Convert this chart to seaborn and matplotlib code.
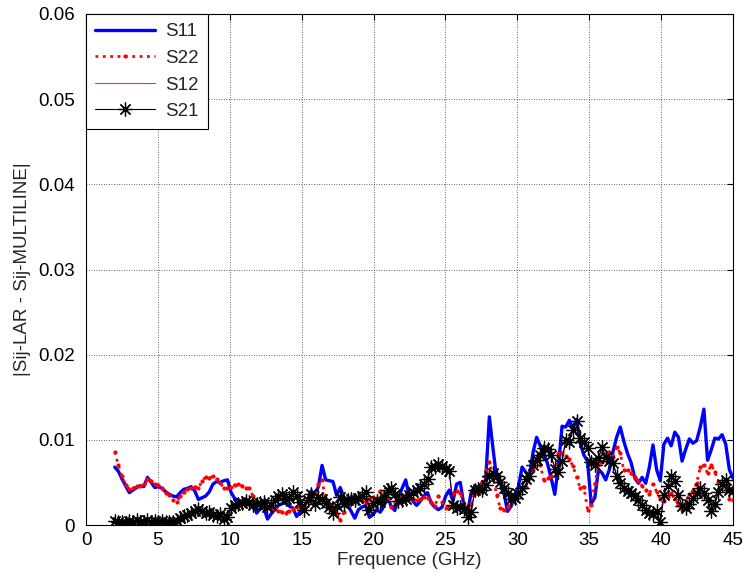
import numpy as np
import pandas as pd
import matplotlib
matplotlib.use("Agg")
import matplotlib.pyplot as plt
import seaborn as sns

# ----------------------------- Data (values read in units of 1e-3) -----------------------------
freq_start, freq_stop, n_points = 2.0, 45.0, 171

s11 = [
    6.8, 6.3, 5.4, 4.6, 3.8, 4.1, 4.4, 4.6,
    4.5, 5.6, 5.0, 4.4, 4.5, 4.3, 3.9, 3.6,
    3.4, 3.3, 3.8, 4.2, 4.3, 4.5, 4.0, 3.0,
    3.2, 3.4, 3.9, 4.8, 5.1, 5.0, 5.2, 5.3,
    3.8, 3.1, 2.9, 2.8, 2.7, 2.7, 2.6, 1.4,
    1.9, 2.0, 0.7, 1.3, 1.8, 2.3, 2.5, 2.6,
    2.2, 2.0, 1.0, 1.6, 2.0, 2.9, 4.0, 3.6,
    4.5, 7.0, 5.3, 5.2, 5.1, 3.5, 4.4, 3.2,
    2.4, 1.6, 0.8, 1.8, 2.1, 2.3, 0.9, 1.2,
    1.8, 1.5, 2.2, 3.3, 2.2, 1.7, 3.2, 4.3,
    5.3, 3.3, 2.8, 2.3, 2.8, 3.4, 3.8, 2.6,
    2.1, 1.8, 2.1, 3.4, 4.1, 2.8, 4.8, 5.0,
    2.3, 1.4, 3.8, 4.5, 4.5, 4.9, 5.3, 12.7,
    9.0, 5.5, 5.0, 3.8, 1.6, 2.2, 3.5, 4.5,
    6.8, 6.2, 5.7, 8.5, 10.3, 9.3, 8.4, 7.2,
    5.5, 3.6, 7.0, 11.6, 11.5, 12.3, 11.3, 12.4,
    9.6, 8.2, 7.5, 2.5, 3.2, 6.5, 6.1, 5.3,
    6.5, 8.6, 10.3, 11.5, 9.8, 8.4, 7.3, 5.5,
    4.9, 5.6, 4.9, 6.8, 9.4, 6.5, 5.2, 9.5,
    10.2, 9.3, 10.9, 10.3, 7.5, 8.9, 10.1, 9.6,
    9.9, 11.5, 13.6, 7.6, 8.8, 10.2, 10.1, 10.6,
    9.5, 6.5, 5.5,
]

s22 = [
    8.6, 7.0, 5.7, 4.7, 4.2, 4.3, 4.6, 4.6,
    4.8, 5.4, 5.2, 4.8, 4.7, 4.3, 3.8, 3.5,
    2.9, 2.7, 3.4, 3.9, 4.2, 4.4, 4.5, 4.3,
    5.2, 5.6, 5.5, 5.7, 5.4, 4.9, 4.4, 4.3,
    4.5, 4.7, 4.8, 4.6, 4.4, 4.3, 3.4, 2.5,
    2.2, 2.0, 2.1, 2.1, 1.9, 1.7, 1.5, 1.4,
    1.7, 1.9, 2.1, 2.1, 2.2, 2.8, 3.5, 3.7,
    4.8, 5.3, 3.0, 2.5, 2.1, 1.2, 0.6, 1.5,
    2.5, 2.8, 3.1, 2.9, 2.8, 2.7, 3.0, 3.3,
    3.1, 4.0, 3.8, 3.1, 2.1, 2.6, 3.1, 3.5,
    3.6, 3.3, 3.0, 2.9, 3.0, 3.3, 3.2, 2.7,
    2.2, 3.4, 2.7, 2.0, 2.1, 3.8, 4.0, 3.8,
    2.5, 1.8, 2.5, 3.8, 4.4, 5.0, 6.3, 7.4,
    5.7, 3.5, 2.0, 1.8, 2.1, 2.7, 3.1, 3.6,
    4.2, 4.5, 5.7, 6.5, 8.0, 7.0, 5.3, 5.5,
    5.8, 6.3, 8.4, 8.5, 8.1, 7.7, 6.9, 5.6,
    4.3, 4.5, 1.8, 2.4, 4.8, 7.0, 7.4, 8.3,
    8.6, 8.0, 9.2, 8.4, 6.4, 6.4, 6.1, 5.6,
    5.2, 4.6, 4.1, 3.6, 4.8, 3.9, 3.1, 2.8,
    3.3, 3.8, 3.0, 2.4, 1.8, 2.8, 3.6, 4.0,
    4.9, 6.8, 7.0, 6.1, 7.1, 6.2, 5.1, 4.9,
    4.3, 3.0, 2.9,
]

s12 = [
    0.5, 0.3, 0.4, 0.2, 0.5, 0.3, 0.6, 0.4,
    0.3, 0.6, 0.4, 0.5, 0.3, 0.5, 0.4, 0.3,
    0.4, 0.5, 0.8, 1.0, 1.2, 1.4, 1.6, 1.9,
    1.7, 1.4, 1.5, 1.2, 1.1, 1.3, 0.7, 0.9,
    2.0, 2.3, 2.5, 2.6, 2.8, 2.7, 2.3, 2.5,
    2.6, 2.7, 2.1, 2.4, 2.9, 3.4, 3.6, 3.0,
    3.2, 3.9, 3.4, 2.7, 1.8, 2.9, 3.6, 2.5,
    3.3, 3.0, 2.6, 2.1, 1.4, 2.2, 3.3, 2.5,
    2.9, 3.1, 2.9, 3.2, 3.4, 3.9, 1.8, 2.6,
    2.8, 2.7, 3.3, 4.1, 4.4, 3.6, 2.8, 2.9,
    3.1, 3.5, 3.9, 4.1, 4.4, 4.8, 5.4, 6.8,
    6.8, 7.2, 6.9, 6.6, 6.3, 2.3, 2.0, 2.1,
    1.9, 0.9, 1.5, 4.1, 4.2, 4.1, 4.7, 5.8,
    6.1, 5.8, 5.0, 4.4, 3.8, 3.1, 3.2, 3.6,
    4.4, 5.4, 5.7, 7.0, 7.6, 8.2, 9.0, 8.9,
    8.2, 6.6, 6.2, 7.5, 10.0, 9.8, 11.2, 12.2,
    10.2, 9.7, 9.0, 7.4, 7.1, 7.9, 9.1, 8.0,
    7.5, 7.3, 5.8, 4.9, 4.4, 4.0, 3.8, 3.4,
    2.9, 2.3, 1.8, 1.4, 1.3, 1.6, 0.3, 3.5,
    4.6, 5.7, 5.2, 3.5, 2.2, 2.0, 2.5, 3.2,
    3.8, 4.3, 3.8, 2.9, 1.7, 2.5, 3.9, 4.8,
    5.3, 4.1, 4.0,
]

s21 = [
    0.5, 0.3, 0.4, 0.2, 0.5, 0.3, 0.6, 0.4,
    0.3, 0.6, 0.4, 0.5, 0.3, 0.5, 0.4, 0.3,
    0.4, 0.5, 0.8, 1.0, 1.2, 1.4, 1.6, 1.9,
    1.7, 1.4, 1.5, 1.2, 1.1, 1.3, 0.7, 0.9,
    2.0, 2.3, 2.5, 2.6, 2.8, 2.7, 2.3, 2.5,
    2.6, 2.7, 2.1, 2.4, 2.9, 3.4, 3.6, 3.0,
    3.2, 3.9, 3.4, 2.7, 1.8, 2.9, 3.6, 2.5,
    3.3, 3.0, 2.6, 2.1, 1.4, 2.2, 3.3, 2.5,
    2.9, 3.1, 2.9, 3.2, 3.4, 3.9, 1.8, 2.6,
    2.8, 2.7, 3.3, 4.1, 4.4, 3.6, 2.8, 2.9,
    3.1, 3.5, 3.9, 4.1, 4.4, 4.8, 5.4, 6.8,
    6.8, 7.2, 6.9, 6.6, 6.3, 2.3, 2.0, 2.1,
    1.9, 0.9, 1.5, 4.1, 4.2, 4.1, 4.7, 5.8,
    6.1, 5.8, 5.0, 4.4, 3.8, 3.1, 3.2, 3.6,
    4.4, 5.4, 5.7, 7.0, 7.6, 8.2, 9.0, 8.9,
    8.2, 6.6, 6.2, 7.5, 10.0, 9.8, 11.2, 12.2,
    10.2, 9.7, 9.0, 7.4, 7.1, 7.9, 9.1, 8.0,
    7.5, 7.3, 5.8, 4.9, 4.4, 4.0, 3.8, 3.4,
    2.9, 2.3, 1.8, 1.4, 1.3, 1.6, 0.3, 3.5,
    4.6, 5.7, 5.2, 3.5, 2.2, 2.0, 2.5, 3.2,
    3.8, 4.3, 3.8, 2.9, 1.7, 2.5, 3.9, 4.8,
    5.3, 4.1, 4.0,
]

x_ticks = [0, 5, 10, 15, 20, 25, 30, 35, 40, 45]
y_ticks = [0, 0.01, 0.02, 0.03, 0.04, 0.05, 0.06]
y_tick_labels = ["0", "0.01", "0.02", "0.03", "0.04", "0.05", "0.06"]

# ----------------------------- Build table -----------------------------
freq = np.linspace(freq_start, freq_stop, n_points)
df = pd.DataFrame({
    "Freq": freq,
    "S11": np.array(s11) * 1e-3,
    "S22": np.array(s22) * 1e-3,
    "S12": np.array(s12) * 1e-3,
    "S21": np.array(s21) * 1e-3,
})

# ----------------------------- Plot -----------------------------
sns.set_theme(style="white")
plt.rcParams["font.family"] = ["Liberation Sans", "DejaVu Sans"]
plt.rcParams["font.size"] = 13.5

fig = plt.figure(figsize=(7.45, 5.8), dpi=100)
ax = fig.add_axes([86 / 745, 55 / 580, (733 - 86) / 745, (525 - 14) / 580])

sns.lineplot(data=df, x="Freq", y="S11", ax=ax, estimator=None, color="#0000ff", linewidth=2.4, label="S11")
sns.lineplot(data=df, x="Freq", y="S22", ax=ax, estimator=None, color="#ff0000", linewidth=2.0,
             linestyle=":", marker=".", markersize=6, markeredgewidth=0, label="S22")
sns.lineplot(data=df, x="Freq", y="S12", ax=ax, estimator=None, color="#ff00ff", linewidth=0.8, label="S12")
sns.lineplot(data=df, x="Freq", y="S21", ax=ax, estimator=None, color="black", linewidth=0.8,
             marker=(8, 2, 0), markersize=10, markeredgewidth=0.9, markeredgecolor="black", label="S21")

ax.set_xlim(0, 45)
ax.set_ylim(0, 0.06)
ax.set_xticks(x_ticks)
ax.set_yticks(y_ticks)
ax.set_yticklabels(y_tick_labels)
ax.grid(True, color="0.2", linestyle=(0, (1, 2)), linewidth=0.6)
ax.tick_params(direction="in", length=4, width=0.8, top=True, right=True, labelsize=13.5, colors="black")
ax.tick_params(axis="y", pad=8)
ax.tick_params(axis="x", pad=5)
for spine in ax.spines.values():
    spine.set_color("black")
    spine.set_linewidth(0.8)

ax.set_xlabel("Frequence (GHz)", fontsize=13.5, labelpad=2)
ax.set_ylabel("|Sij-LAR - Sij-MULTILINE|", fontsize=13.5, labelpad=5)

leg = ax.legend(loc="upper left", borderaxespad=0, fancybox=False, framealpha=1, edgecolor="black",
                fontsize=13.5, handlelength=3.2, labelspacing=0.5, borderpad=0.5, handletextpad=0.5)
leg.get_frame().set_linewidth(0.8)

fig.savefig("out.png", dpi=100, facecolor="white")
